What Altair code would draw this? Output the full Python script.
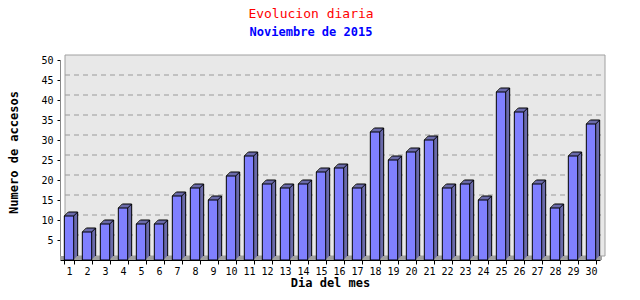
import altair as alt
import pandas as pd

days = list(range(1, 31))
visits = [11, 7, 9, 13, 9, 9, 16, 18, 15, 21, 26, 19, 18, 19, 22, 23, 18, 32, 25, 27,
          30, 18, 19, 15, 42, 37, 19, 13, 26, 34]
grid_vals = [5, 10, 15, 20, 25, 30, 35, 40, 45]
y_ticks = [5, 10, 15, 20, 25, 30, 35, 40, 45, 50]

FONT = "DejaVu Sans Mono"
W, H = 540, 200
D = 4                      # 3D depth in px
PI = 0.48
STEP = W / 30
HB = STEP * (1 - PI) / 2   # half bar width

df = pd.DataFrame({"dia": [str(d) for d in days], "value": visits})
gdf = pd.DataFrame({"value": grid_vals})
one = pd.DataFrame({"a": [0]})

yscale = alt.Scale(domain=[0, 50], nice=False)
xscale = alt.Scale(domain=[str(d) for d in days], paddingInner=PI, paddingOuter=PI / 2)

xaxis = alt.Axis(title="Dia del mes", labelAngle=0, tickBand="extent", tickSize=4,
                 labelPadding=2, titlePadding=1, domainColor="black", tickColor="black")
yaxis = alt.Axis(title="Numero de accesos", values=y_ticks, tickSize=3, labelPadding=4,
                 grid=False, titlePadding=20, titleY=92, domainColor="#888888", tickColor="black")

X = alt.X("dia:N", scale=xscale, axis=xaxis, sort=None)
Y = alt.Y("value:Q", scale=yscale, axis=yaxis)

wall = alt.Chart(one).mark_rect(fill="#e8e8e8", stroke="#a0a0a0", strokeWidth=1).encode(
    x=alt.value(D + 1), x2=alt.value(W + D + 1), y=alt.value(-D - 1), y2=alt.value(H - D)
)
floor = alt.Chart(one).mark_rect(fill="#a0a0a0").encode(
    x=alt.value(0), x2=alt.value(W + 2), y=alt.value(H - D), y2=alt.value(H)
)
grid = alt.Chart(gdf).mark_rule(color="#9a9a9a", strokeDash=[5, 4], strokeWidth=1, yOffset=-D - 1).encode(
    y=Y, x=alt.value(D + 1), x2=alt.value(W + D + 1),
)

layers = [wall, floor, grid]
# depth faces (stacked 1px shifts -> parallelogram top and side)
for k in range(1, D + 1):
    layers.append(
        alt.Chart(df).mark_bar(fill="#6a6aaa", strokeWidth=0, xOffset=k, yOffset=-k).encode(x=X, y=Y)
    )

edge = dict(color="black", strokeWidth=1)
# top-left slant
layers.append(alt.Chart(df).mark_rule(**edge, xOffset=-HB, x2Offset=-HB + D, y2Offset=-D).encode(
    x=X, x2="dia:N", y=Y, y2="value:Q"))
# top-right slant
layers.append(alt.Chart(df).mark_rule(**edge, xOffset=HB, x2Offset=HB + D, y2Offset=-D).encode(
    x=X, x2="dia:N", y=Y, y2="value:Q"))
# back top edge
layers.append(alt.Chart(df).mark_rule(**edge, xOffset=-HB + D, x2Offset=HB + D, yOffset=-D, y2Offset=-D).encode(
    x=X, x2="dia:N", y=Y, y2="value:Q"))
# back right vertical edge
layers.append(alt.Chart(df).mark_rule(**edge, xOffset=HB + D, x2Offset=HB + D, yOffset=-D, y2Offset=-D).encode(
    x=X, x2="dia:N", y=Y, y2=alt.datum(0)))
# front bars
layers.append(alt.Chart(df).mark_bar(fill="#8080ff", stroke="black", strokeWidth=1).encode(x=X, y=Y))

chart = alt.layer(*layers).properties(
    width=W, height=H,
    autosize="none",
    padding={"left": 60, "top": 60, "right": 40, "bottom": 40},
    title=alt.TitleParams(
        text="Evolucion diaria", subtitle="Noviembre de 2015",
        color="red", subtitleColor="blue",
        font=FONT, subtitleFont=FONT,
        fontSize=13, fontWeight="normal",
        subtitleFontSize=12, subtitleFontWeight="bold",
        subtitlePadding=6, anchor="middle", dx=-19, offset=17,
    ),
).configure_view(stroke=None).configure_axis(
    labelFont=FONT, labelFontSize=10, labelColor="black",
    titleFont=FONT, titleFontSize=12, titleFontWeight="bold", titleColor="black",
)

chart.save("out.html", embed_options={"renderer": "svg", "actions": False})
